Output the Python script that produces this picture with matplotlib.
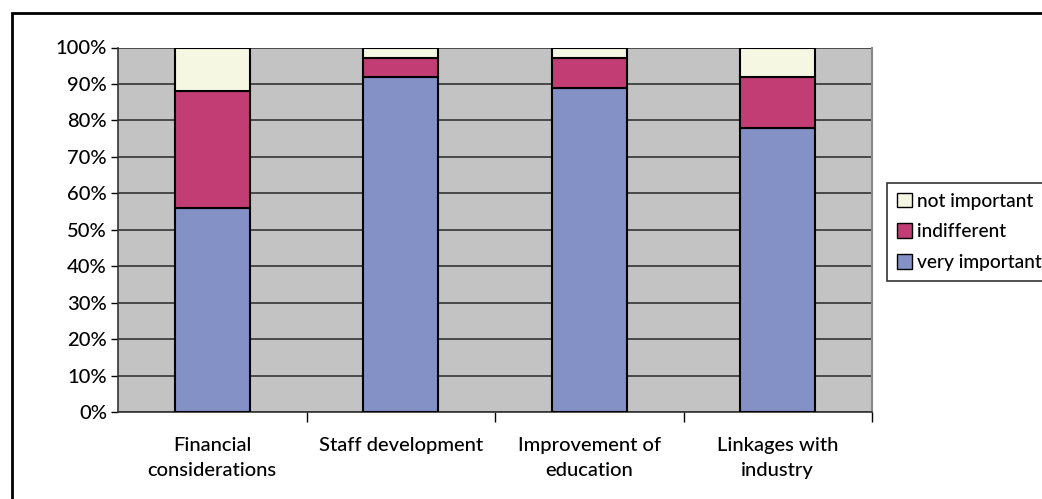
import matplotlib
matplotlib.use("Agg")
import matplotlib.pyplot as plt
from matplotlib.patches import Rectangle, Patch
import numpy as np

categories = ["Financial\nconsiderations", "Staff development", "Improvement of\neducation", "Linkages with\nindustry"]
very_important = [56, 92, 89, 78]
indifferent = [32, 5, 8, 14]
not_important = [12, 3, 3, 8]
series_names = ["very important", "indifferent", "not important"]
colors = ["#8391C6", "#C13D74", "#F5F7E2"]
yticks = [0, 10, 20, 30, 40, 50, 60, 70, 80, 90, 100]

plt.rcParams['font.family'] = ['Lato', 'DejaVu Sans']
plt.rcParams['font.weight'] = 'medium'
FS = 14.5

W, H = 1042, 499
fig = plt.figure(figsize=(W / 100, H / 100), dpi=100)

# outer frame (extends beyond the image to the right/bottom)
fig.patches.append(Rectangle((12 / W, -0.1), 1.2, 1 - 13 / H + 0.1, transform=fig.transFigure,
                             fill=False, edgecolor="black", linewidth=2, zorder=0))

ax = fig.add_axes([118 / W, 1 - 412 / H, (872 - 118) / W, (412 - 47.5) / H])
ax.set_facecolor("#C3C3C3")

x = np.arange(len(categories))
bottom = np.zeros(len(categories))
for vals, name, c in zip([very_important, indifferent, not_important], series_names, colors):
    ax.bar(x, vals, width=0.4, bottom=bottom, color=c, edgecolor="black", linewidth=1.5, zorder=3, label=name)
    bottom += np.array(vals)

ax.set_xlim(-0.5, len(categories) - 0.5)
ax.set_ylim(0, 100)
ax.set_yticks(yticks)
ax.set_yticklabels([f"{v}%" for v in yticks], fontsize=FS)
ax.yaxis.grid(True, color="#333333", linewidth=1.2, zorder=1)
ax.set_axisbelow(True)

ax.set_xticks(np.arange(0.5, len(categories), 1.0))
ax.set_xticklabels([])
ax.set_xticks(x, minor=True)
ax.set_xticklabels(categories, minor=True, fontsize=FS, linespacing=1.55)
ax.tick_params(axis="x", which="major", length=7, width=1, color="black", direction="out")
ax.tick_params(axis="x", which="minor", length=0, pad=18)
ax.tick_params(axis="y", length=5, width=1, color="black", pad=3)

ax.spines["top"].set_visible(False)
ax.spines["right"].set_color("#888888")
ax.spines["right"].set_linewidth(1.5)
ax.spines["left"].set_color("#333333")
ax.spines["left"].set_linewidth(1.2)
ax.spines["bottom"].set_color("#333333")
ax.spines["bottom"].set_linewidth(1.2)

leg_handles = [Patch(facecolor=c, edgecolor="black", linewidth=1) for c in colors[::-1]]
leg = fig.legend(leg_handles, series_names[::-1], loc="upper left",
                 bbox_to_anchor=(887 / W, 1 - 183 / H), frameon=True, fancybox=False,
                 edgecolor="black", fontsize=13.8, handlelength=0.8, handleheight=0.8,
                 handletextpad=0.25, borderpad=0.5, labelspacing=0.72, borderaxespad=0)
leg.get_frame().set_linewidth(1.2)

fig.savefig("out.png", dpi=100)
